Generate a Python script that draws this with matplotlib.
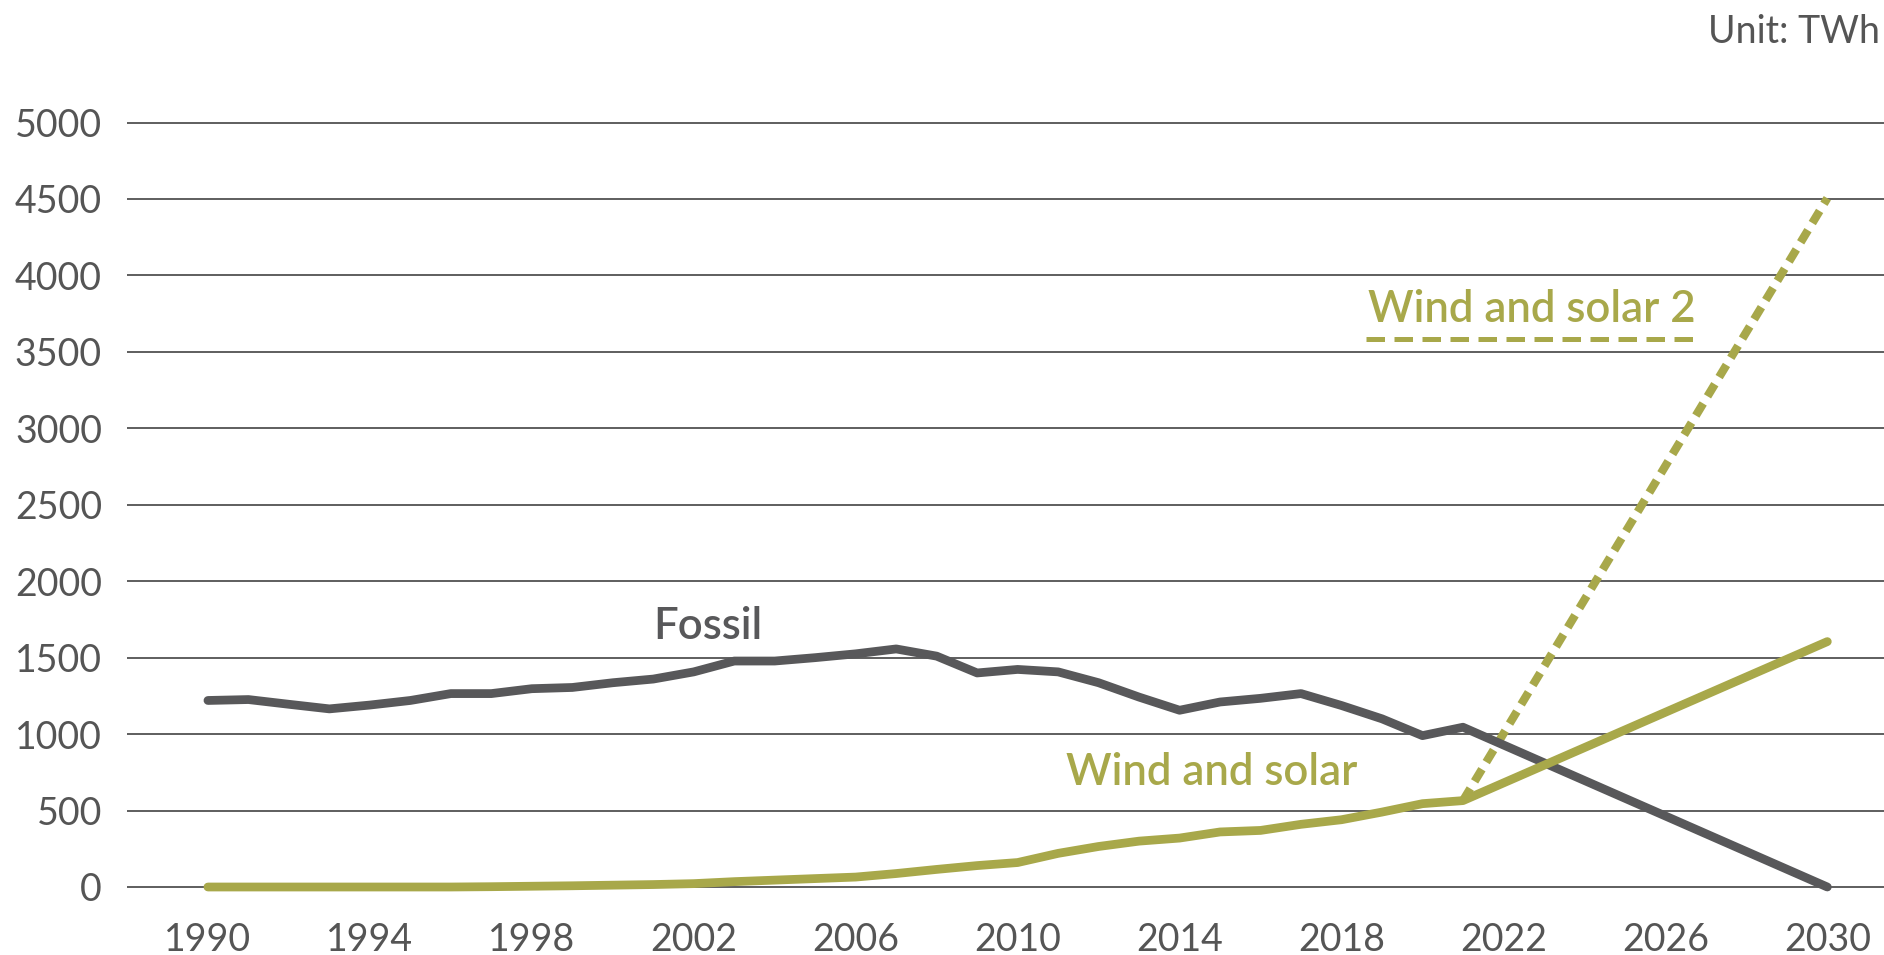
import numpy as np
import matplotlib
matplotlib.use("Agg")
import matplotlib.pyplot as plt

# Values (TWh)
fossil_years = list(range(1990, 2022)) + [2030]
fossil = [1220, 1226, 1195, 1165, 1190, 1220, 1265, 1265, 1297, 1305,
          1336, 1360, 1407, 1478, 1478, 1500, 1525, 1557, 1510, 1400,
          1423, 1407, 1336, 1242, 1156, 1210, 1234, 1265, 1187, 1100,
          990, 1045, 0]

wind_years = list(range(1990, 2022)) + [2030]
wind_solar = [0, 0, 0, 0, 0, 0, 0, 2, 5, 8,
              12, 16, 22, 35, 45, 55, 65, 88, 115, 140,
              160, 220, 265, 300, 320, 360, 370, 410, 440, 490,
              545, 565, 1605]

wind2_years = [2021, 2030]
wind_solar_2 = [565, 4505]

xticks = list(range(1990, 2031, 4))
yticks = list(range(0, 5001, 500))

GREY = "#58585a"
OLIVE = "#a8a84a"
TXT = "#555555"

plt.rcParams["font.family"] = ["Lato", "DejaVu Sans"]

fig = plt.figure(figsize=(18.84, 9.55), dpi=100)
ax = fig.add_axes([0.0674, 0.0632, 0.9326, 0.8165])

for y in yticks:
    ax.axhline(y, color="#333333", lw=1.1, zorder=1)

ax.plot(fossil_years, fossil, color=GREY, lw=6.3, solid_capstyle="round",
        solid_joinstyle="round", zorder=3, clip_on=False)
ax.plot(wind2_years, wind_solar_2, color=OLIVE, lw=6.0, dashes=(1.7, 1.0),
        dash_capstyle="butt", zorder=2, clip_on=False)
ax.plot(wind_years, wind_solar, color=OLIVE, lw=6.3, solid_capstyle="round",
        solid_joinstyle="round", zorder=4, clip_on=False)

ax.text(2002.35, 1707, "Fossil", color=GREY, fontsize=31.5, fontweight="semibold",
        ha="center", va="center")
ax.text(2014.8, 746, "Wind and solar", color=OLIVE, fontsize=31.5,
        fontweight="semibold", ha="center", va="center")
ax.text(2022.7, 3774, "Wind and solar 2", color=OLIVE, fontsize=31.5,
        fontweight="semibold", ha="center", va="center")
ax.plot([2018.6, 2026.9], [3584, 3584], color=OLIVE, lw=3.6, dashes=(3.7, 1.9))

ax.set_xlim(1988.0, 2031.4)
ax.set_ylim(-50, 5050)
ax.set_xticks(xticks)
ax.set_yticks(yticks)
ax.tick_params(length=0, labelsize=27, colors=TXT)
ax.tick_params(axis="y", pad=18)
ax.tick_params(axis="x", pad=20)
for s in ax.spines.values():
    s.set_visible(False)

fig.text(0.998, 0.966, "Unit: TWh", ha="right", va="center", fontsize=27, color=TXT)

fig.savefig("out.png", dpi=100)
